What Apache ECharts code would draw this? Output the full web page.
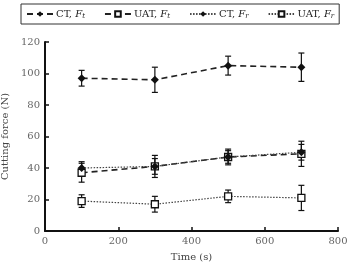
<!DOCTYPE html>
<html><head><meta charset="utf-8">
<script src="https://cdn.jsdelivr.net/npm/echarts@6/dist/echarts.min.js"></script>
<style>html,body{margin:0;padding:0;background:#fff}#c{width:347px;height:266px}</style>
</head><body><div id="c"></div>
<script>
var times = [100, 300, 500, 700];
var ctFt = [97, 96, 105, 104];
var ctFtErr = [5, 8, 6, 9];
var uatFt = [37, 41, 47, 49];
var uatFtErr = [6, 7, 5, 8];
var ctFr = [40, 41, 47, 50];
var ctFrErr = [4, 5, 4, 5];
var uatFr = [19, 17, 22, 21];
var uatFrErr = [4, 5, 4, 8];
var xTicks = [0, 200, 400, 600, 800];
var yTicks = [0, 20, 40, 60, 80, 100, 120];

var serif = 'DejaVu Serif';
function pts(v){ return times.map(function(t,i){ return [t, v[i]]; }); }
function errData(v,e){ return times.map(function(t,i){ return [t, v[i]-e[i], v[i]+e[i]]; }); }
function errSeries(v,e){
  return {
    type:'custom', silent:true, z:1,
    data: errData(v,e),
    renderItem: function(params, api){
      var x = api.value(0);
      var lo = api.coord([x, api.value(1)]);
      var hi = api.coord([x, api.value(2)]);
      var w = 3;
      var st = {stroke:'#111', lineWidth:1.2};
      return {type:'group', children:[
        {type:'line', shape:{x1:lo[0],y1:lo[1],x2:hi[0],y2:hi[1]}, style:st},
        {type:'line', shape:{x1:lo[0]-w,y1:lo[1],x2:lo[0]+w,y2:lo[1]}, style:st},
        {type:'line', shape:{x1:hi[0]-w,y1:hi[1],x2:hi[0]+w,y2:hi[1]}, style:st}
      ]};
    }
  };
}
var rich = {
  n:{fontFamily:serif,fontSize:10,color:'#222'},
  i:{fontFamily:serif,fontSize:10,fontStyle:'italic',color:'#222'},
  s:{fontFamily:serif,fontSize:7,fontStyle:'italic',color:'#222',padding:[5,0,0,0]}
};
var names = ['CT, Ft','UAT, Ft','CT, Fr','UAT, Fr'];
var chart = echarts.init(document.getElementById('c'));
chart.setOption({
  animation:false,
  backgroundColor:'#fff',
  legend:{
    left:21, top:4, width:330, height:16,
    padding:[5,5,4,5],
    borderColor:'#333', borderWidth:1,
    itemWidth:26, itemHeight:7, itemGap:19,
    data:names,
    formatter:function(n){
      var p = n.split(', ');
      return '{n|' + p[0] + ', }{i|F}{s|' + p[1].charAt(1) + '}';
    },
    textStyle:{rich:rich, padding:[0,0,0,-2]}
  },
  grid:{left:45, right:9, top:42, bottom:35, outerBoundsMode:'none', containLabel:false},
  xAxis:{
    type:'value', min:0, max:800, interval:200,
    name:'Time (s)', nameLocation:'middle', nameGap:21,
    nameTextStyle:{fontFamily:serif,fontSize:10,color:'#444'},
    axisLine:{lineStyle:{color:'#111',width:2}},
    axisTick:{inside:true,length:4,lineStyle:{color:'#111',width:1.5}},
    axisLabel:{fontFamily:serif,fontSize:10,color:'#666',margin:5},
    splitLine:{show:false}
  },
  yAxis:{
    type:'value', min:0, max:120, interval:20,
    name:'Cutting force (N)', nameLocation:'middle', nameGap:27,
    nameTextStyle:{fontFamily:serif,fontSize:10,color:'#444'},
    axisLine:{lineStyle:{color:'#111',width:2}},
    axisTick:{inside:true,length:4,lineStyle:{color:'#111',width:1.5}},
    axisLabel:{fontFamily:serif,fontSize:10,color:'#666',margin:5},
    splitLine:{show:false}
  },
  series:[
    errSeries(ctFt,ctFtErr), errSeries(uatFt,uatFtErr), errSeries(ctFr,ctFrErr), errSeries(uatFr,uatFrErr),
    {name:names[0], type:'line', data:pts(ctFt), z:3, symbol:'diamond', symbolSize:8,
     itemStyle:{color:'#111'}, lineStyle:{color:'#222',width:1.6,type:[6,4]}},
    {name:names[1], type:'line', data:pts(uatFt), z:3, symbol:'rect', symbolSize:7,
     itemStyle:{color:'#fff',borderColor:'#111',borderWidth:1.3}, lineStyle:{color:'#222',width:1.6,type:[6,4]}},
    {name:names[2], type:'line', data:pts(ctFr), z:3, symbol:'diamond', symbolSize:8,
     itemStyle:{color:'#111'}, lineStyle:{color:'#444',width:1.2,type:[1.5,1.5]}},
    {name:names[3], type:'line', data:pts(uatFr), z:3, symbol:'rect', symbolSize:7,
     itemStyle:{color:'#fff',borderColor:'#111',borderWidth:1.3}, lineStyle:{color:'#444',width:1.2,type:[1.5,1.5]}}
  ]
});
</script></body></html>
